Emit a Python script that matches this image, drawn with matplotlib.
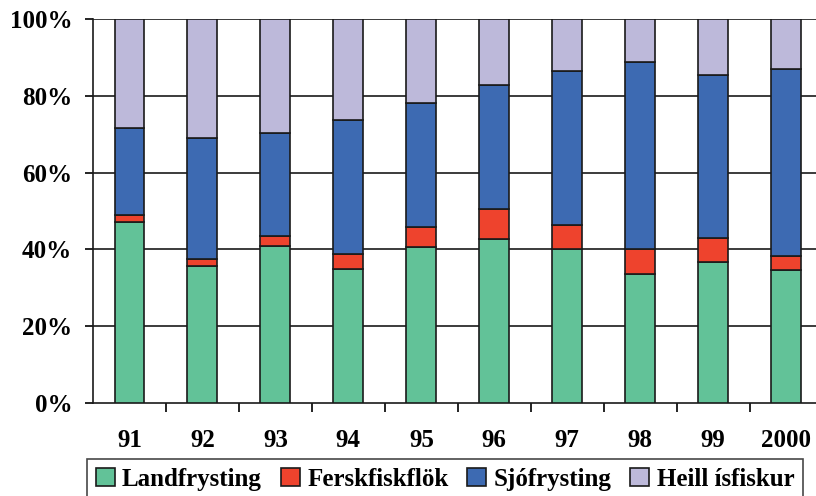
import matplotlib
matplotlib.use("Agg")
import matplotlib.pyplot as plt
import numpy as np
from matplotlib.ticker import FixedLocator, NullFormatter, FixedFormatter

years = ["91", "92", "93", "94", "95", "96", "97", "98", "99", "2000"]
series_names = ["Landfrysting", "Ferskfiskflök", "Sjófrysting", "Heill ísfiskur"]
landfrysting = [47.1, 35.8, 40.8, 35.0, 40.5, 42.6, 40.1, 33.7, 36.7, 34.6]
ferskfiskflok = [1.8, 1.7, 2.6, 3.7, 5.4, 7.9, 6.2, 6.4, 6.2, 3.7]
sjofrysting = [22.6, 31.5, 26.8, 34.9, 32.3, 32.3, 40.2, 48.6, 42.4, 48.7]
heill_isfiskur = [28.5, 31.0, 29.8, 26.4, 21.8, 17.2, 13.5, 11.3, 14.7, 13.0]
colors = ["#62C298", "#EE432D", "#3D6AB2", "#BDB9DA"]
ytick_labels = ["0%", "20%", "40%", "60%", "80%", "100%"]

plt.rcParams['font.family'] = ['Liberation Serif', 'DejaVu Serif']
fig = plt.figure(figsize=(8.16, 4.96), dpi=100)
ax = fig.add_axes([93/816, 93/496, 729.6/816, 384/496])

x = np.arange(len(years))
bottom = np.zeros(len(years))
handles = []
for vals, name, c in zip([landfrysting, ferskfiskflok, sjofrysting, heill_isfiskur], series_names, colors):
    b = ax.bar(x, vals, bottom=bottom, width=0.41, color=c, edgecolor="#1a1a1a", linewidth=1.2, label=name, zorder=3)
    bottom += np.array(vals)
    handles.append(b)

ax.set_xlim(-0.5, len(years) - 0.5)
ax.set_ylim(0, 100)
yt = [0, 20, 40, 60, 80, 100]
ax.set_yticks(yt)
ax.set_yticklabels(ytick_labels, fontsize=18, fontweight="bold")
for y in yt[1:]:
    ax.axhline(y, color="#1a1a1a", linewidth=1.2, zorder=1)
ax.tick_params(axis="y", direction="out", length=6, width=1.2, pad=9)

ax.xaxis.set_major_locator(FixedLocator(np.arange(0.5, len(years) - 0.5, 1.0)))
ax.xaxis.set_major_formatter(NullFormatter())
ax.xaxis.set_minor_locator(FixedLocator(x))
ax.xaxis.set_minor_formatter(FixedFormatter(years))
ax.tick_params(axis="x", which="major", direction="out", length=6.5, width=1.2)
ax.tick_params(axis="x", which="minor", length=0, pad=19, labelsize=18)
for lab in ax.get_xticklabels(minor=True):
    lab.set_fontweight("bold")

for s in ["top", "right"]:
    ax.spines[s].set_visible(False)
for s in ["left", "bottom"]:
    ax.spines[s].set_linewidth(1.2)
    ax.spines[s].set_color("#1a1a1a")

leg = fig.legend(handles=handles, labels=series_names, loc="upper left",
                 bbox_to_anchor=(87/816, 1 - 459/496, 716/816, 0), mode="expand",
                 ncol=4, frameon=True, fancybox=False, edgecolor="#1a1a1a", borderpad=0.35,
                 borderaxespad=0.0,
                 handlelength=0.75, handleheight=0.75, handletextpad=0.3, columnspacing=0.8,
                 prop={"size": 18, "weight": "bold"})
leg.get_frame().set_linewidth(1.2)

fig.savefig("out.png", dpi=100)
